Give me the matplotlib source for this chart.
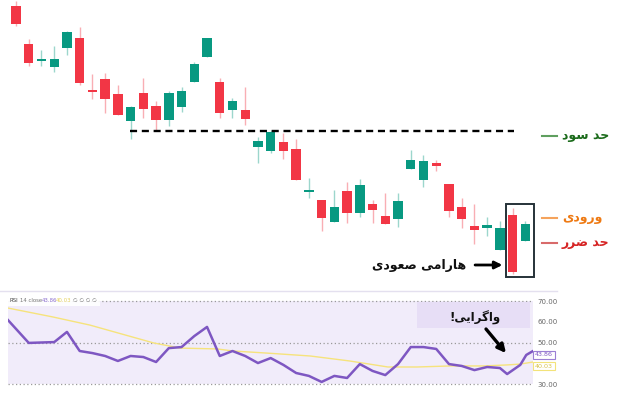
import matplotlib
matplotlib.use("Agg")
import matplotlib.pyplot as plt
from matplotlib.patches import Rectangle
from matplotlib.lines import Line2D

# ---------------- data ----------------
opens  = [294, 256, 239, 233, 252, 262, 210, 221, 206, 179, 207, 194, 180, 193, 218, 243, 218, 190, 190, 153, 149,
          158, 151, 108, 100, 78, 109, 87, 96, 84, 81, 131, 120, 137, 116, 93, 74, 72, 50, 85, 59]
highs  = [299, 261, 250, 254, 269, 273, 226, 227, 215, 194, 222, 199, 209, 213, 238, 262, 222, 202, 213, 163, 170,
          167, 161, 122, 100, 110, 118, 121, 100, 107, 107, 150, 145, 140, 116, 102, 96, 83, 79, 92, 79]
lows   = [274, 234, 234, 228, 245, 215, 201, 187, 185, 161, 182, 169, 174, 188, 218, 243, 182, 182, 175, 137, 147,
          141, 120, 102, 69, 78, 77, 83, 77, 76, 73, 131, 113, 129, 83, 72, 56, 64, 50, 26, 59]
closes = [276, 237, 241, 241, 268, 217, 208, 201, 185, 193, 191, 180, 207, 209, 236, 262, 187, 199, 181, 159, 168,
          149, 120, 110, 82, 93, 87, 115, 90, 76, 99, 140, 139, 134, 89, 81, 70, 75, 72, 28, 76]

resistance_level = 169
resistance_from, resistance_to = 9.96, 40.1

rsi_x = [0.37, 2, 3, 4, 5, 6, 7, 8, 9, 10, 11, 12, 13, 14, 15, 16, 17, 18, 19, 20, 21, 22, 23, 24, 25, 26, 27, 28,
         29, 30, 31, 32, 33, 34, 35, 36, 37, 38, 39, 39.57, 40.6, 41.07, 41.6]
rsi_vals = [60.8, 49.8, 50.0, 50.2, 55.1, 45.9, 44.9, 43.5, 41.1, 43.5, 43.0, 40.6, 47.3, 47.8, 53.1, 57.5, 43.5,
            45.9, 43.5, 40.1, 42.5, 39.2, 35.3, 33.9, 31.0, 33.9, 32.9, 39.6, 36.3, 34.3, 39.6, 47.8, 47.8, 46.9,
            39.6, 38.7, 36.7, 38.2, 37.7, 34.8, 39.2, 44.0, 45.9]
ma_x = [0.37, 3.9, 6.8, 11.8, 13.9, 16.8, 18.05, 20.7, 24.1, 27.2, 30.2, 32.5, 35.1, 37.7, 39.6, 40.6, 41.6]
ma_vals = [66.6, 62.3, 58.4, 49.8, 47.3, 46.9, 45.9, 44.9, 43.5, 41.1, 38.2, 38.2, 38.7, 38.7, 39.2, 39.6, 40.6]

rsi_ticks = [30, 50, 60, 70]
rsi_last, ma_last = "43.86", "40.03"

# ---------------- Persian shaping helper ----------------
FORMS = {
    'ا': ('\uFE8D', '\uFE8E', None, None),
    'د': ('\uFEA9', '\uFEAA', None, None),
    'ر': ('\uFEAD', '\uFEAE', None, None),
    'و': ('\uFEED', '\uFEEE', None, None),
    'ح': ('\uFEA1', '\uFEA2', '\uFEA3', '\uFEA4'),
    'س': ('\uFEB1', '\uFEB2', '\uFEB3', '\uFEB4'),
    'ص': ('\uFEB9', '\uFEBA', '\uFEBB', '\uFEBC'),
    'ض': ('\uFEBD', '\uFEBE', '\uFEBF', '\uFEC0'),
    'ع': ('\uFEC9', '\uFECA', '\uFECB', '\uFECC'),
    'م': ('\uFEE1', '\uFEE2', '\uFEE3', '\uFEE4'),
    'ه': ('\uFEE9', '\uFEEA', '\uFEEB', '\uFEEC'),
    'ی': ('\uFEEF', '\uFEF0', '\uFEF3', '\uFEF4'),
    'گ': ('\uFB92', '\uFB93', '\uFB94', '\uFB95'),
}


def fa(text):
    out = []
    n = len(text)
    for i, ch in enumerate(text):
        if ch not in FORMS:
            out.append(ch)
            continue
        prev = text[i - 1] if i > 0 else None
        nxt = text[i + 1] if i < n - 1 else None
        pj = prev in FORMS and FORMS[prev][2] is not None
        nj = FORMS[ch][2] is not None and nxt in FORMS
        if pj and nj:
            f = FORMS[ch][3]
        elif pj:
            f = FORMS[ch][1]
        elif nj:
            f = FORMS[ch][2]
        else:
            f = FORMS[ch][0]
        out.append(f)
    return ''.join(reversed(out))


# ---------------- figure ----------------
W, H = 624, 397
fig = plt.figure(figsize=(W / 100, H / 100), dpi=100)
fig.patch.set_facecolor('white')


def fx(px):
    return px / W


def fy(py):
    return 1 - py / H


XL = (0.37, 41.6)
GREEN = '#089981'
RED = '#F23645'

# candle panel
ax = fig.add_axes([fx(8), fy(285), fx(533) - fx(8), fy(0) - fy(285)])
ax.set_xlim(*XL)
ax.set_ylim(15, 300)
ax.axis('off')

xs = list(range(1, len(opens) + 1))
cols = [GREEN if c >= o else RED for o, c in zip(opens, closes)]
ax.vlines(xs, lows, highs, colors=cols, lw=1.0, alpha=0.4, zorder=1)
bottoms = [min(o, c) for o, c in zip(opens, closes)]
heights = [max(abs(c - o), 1.5) for o, c in zip(opens, closes)]
ax.bar(xs, heights, bottom=bottoms, width=0.74, color=cols, zorder=2, linewidth=0)

ax.hlines(resistance_level, resistance_from, resistance_to, colors='black', linestyles=(0, (3, 2)),
          lw=1.7, zorder=3)

ax.add_patch(Rectangle((39.48, 23), 2.2, 73, fill=False, edgecolor='#263238', lw=1.4,
                       clip_on=False, zorder=4))

ax.annotate('', xy=(39.2, 35), xytext=(37.05, 35),
            arrowprops=dict(arrowstyle='-|>', lw=2, color='black', mutation_scale=11,
                            shrinkA=0, shrinkB=0), annotation_clip=False)
fig.text(fx(419), fy(265), fa('هارامی صعودی'), ha='center', va='center', fontsize=9,
         fontweight='bold', color='#111111', family=['DejaVu Sans'])

# right-side level labels
for py, lc, tc, label in [(136, '#5f9f5f', '#1b6b1b', 'حد سود'),
                          (218, '#f5a35c', '#ee7a14', 'ورودی'),
                          (243, '#d86a6a', '#d62424', 'حد ضرر')]:
    fig.add_artist(Line2D([fx(542), fx(557)], [fy(py), fy(py)], color=lc, lw=1.5))
    fig.text(fx(562), fy(py), fa(label), ha='left', va='center', fontsize=9, fontweight='bold',
             color=tc, family=['DejaVu Sans'])

# RSI panel
ax2 = fig.add_axes([fx(8), fy(395), fx(533) - fx(8), fy(291) - fy(395)])
ax2.set_xlim(*XL)
ax2.set_ylim(24.7, 74.82)
for s in ax2.spines.values():
    s.set_visible(False)
ax2.set_facecolor('none')
ax2.axhspan(30, 70, color='#f1ecfa', zorder=0, lw=0)
ax2.hlines([70, 50, 30], XL[0], XL[1], colors='#9a9a9a', linestyles=(0, (1, 2)), lw=0.9, zorder=1)
ax2.add_patch(Rectangle((32.49, 57.0), 41.37 - 32.49, 12.5, color='#e7def6', lw=0, zorder=1))
ax2.plot(ma_x, ma_vals, color='#f6e37c', lw=1.0, zorder=2)
ax2.plot(rsi_x, rsi_vals, color='#7e57c2', lw=1.8, zorder=3, solid_joinstyle='round')
ax2.set_xticks([])
ax2.yaxis.tick_right()
ax2.set_yticks(rsi_ticks)
ax2.set_yticklabels([f'{t:.2f}' for t in rsi_ticks], fontsize=5, color='#666666')
ax2.tick_params(axis='y', length=0, pad=3)

ax2.annotate('', xy=(39.48, 44.9), xytext=(37.91, 56.5),
             arrowprops=dict(arrowstyle='-|>', lw=2.4, color='black', mutation_scale=12,
                             shrinkA=0, shrinkB=0))
fig.text(fx(475), fy(318), '!' + fa('واگرایی'), ha='center', va='center', fontsize=8.5,
         fontweight='bold', color='#111111', family=['DejaVu Sans'])

# value tags
fig.text(fx(544), fy(355), rsi_last, ha='center', va='center', fontsize=4.6, color='#7e57c2',
         bbox=dict(boxstyle='square,pad=0.25', fc='white', ec='#9b7fd4', lw=0.8))
fig.text(fx(544), fy(366), ma_last, ha='center', va='center', fontsize=4.6, color='#d8c24a',
         bbox=dict(boxstyle='square,pad=0.25', fc='white', ec='#f3e37a', lw=0.8))

# separator line above RSI
fig.add_artist(Line2D([0, fx(557)], [fy(291), fy(291)], color='#e4e0ef', lw=1.0))

# RSI legend
fig.add_artist(Rectangle((fx(8), fy(306)), fx(100) - fx(8), fy(295) - fy(306),
                         transform=fig.transFigure, fc='white', ec='none', alpha=0.9))
ly = fy(300.5)
fs = 3.9
fig.text(fx(10), ly, 'RSI', fontsize=fs, color='#444444', va='center')
fig.text(fx(20.5), ly, '14 close', fontsize=fs, color='#777777', va='center')
fig.text(fx(42), ly, rsi_last, fontsize=fs, color='#8c6fd0', va='center')
fig.text(fx(56), ly, ma_last, fontsize=fs, color='#e6d25c', va='center')
fig.text(fx(73), ly, '∅ ∅ ∅ ∅', fontsize=fs, color='#777777', va='center')

fig.savefig('out.png', dpi=100)
